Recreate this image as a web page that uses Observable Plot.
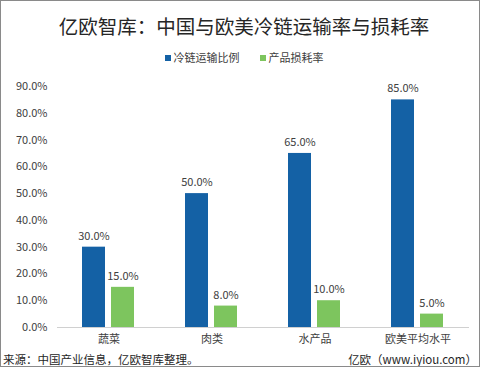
<!DOCTYPE html>
<html>
<head>
<meta charset="utf-8">
<script src="https://cdn.jsdelivr.net/npm/d3@7"></script>
<script src="https://cdn.jsdelivr.net/npm/@observablehq/plot@0.6"></script>
<style>
  html, body { margin: 0; padding: 0; background: #fff; }
  #wrap { position: relative; width: 480px; height: 367px; box-sizing: border-box; border: 1px solid #8a8a8a; overflow: hidden; font-family: "Noto Sans CJK SC", "Noto Sans", sans-serif; }
  #title { position: absolute; left: 4px; width: 478px; top: 10px; text-align: center; font-size: 19.5px; color: #262626; white-space: nowrap; }
  #legend { position: absolute; left: 4px; width: 478px; top: 48px; text-align: center; font-size: 11px; color: #404040; white-space: nowrap; }
  #legend span.sw { display: inline-block; width: 6px; height: 6px; margin-right: 3px; vertical-align: 1px; }
  #legend span.item { margin: 0 10px; }
  #chart { position: absolute; left: 0; top: 70px; }
  #foot-l { position: absolute; left: 2px; top: 350px; font-size: 11.5px; color: #262626; white-space: nowrap; }
  #foot-r { position: absolute; right: 2px; top: 350px; font-size: 11.5px; color: #262626; white-space: nowrap; }
</style>
</head>
<body>
<div id="wrap">
  <div id="title">亿欧智库：中国与欧美冷链运输率与损耗率</div>
  <div id="legend"></div>
  <div id="chart"></div>
  <div id="foot-l">来源：中国产业信息，亿欧智库整理。</div>
  <div id="foot-r">亿欧（www.iyiou.com）</div>
</div>
<script>
const categories = ["蔬菜", "肉类", "水产品", "欧美平均水平"];
const seriesNames = ["冷链运输比例", "产品损耗率"];
const coldChainRate = [0.30, 0.50, 0.65, 0.85];
const lossRate = [0.15, 0.08, 0.10, 0.05];
const yTicks = [0, 0.1, 0.2, 0.3, 0.4, 0.5, 0.6, 0.7, 0.8, 0.9];
const colors = ["#1461A5", "#7DC55E"];

const data = [];
categories.forEach((c, i) => {
  data.push({category: c, series: seriesNames[0], value: coldChainRate[i]});
  data.push({category: c, series: seriesNames[1], value: lossRate[i]});
});

const legend = document.getElementById("legend");
seriesNames.forEach((s, i) => {
  const item = document.createElement("span");
  item.className = "item";
  item.innerHTML = `<span class="sw" style="background:${colors[i]}"></span>${s}`;
  legend.appendChild(item);
});

const fmt = d3.format(".1%");

const chart = Plot.plot({
  width: 478,
  height: 280,
  marginLeft: 56,
  marginRight: 10,
  marginTop: 15,
  marginBottom: 24,
  style: {fontFamily: "'Noto Sans CJK SC', 'Noto Sans', sans-serif", fontSize: "11px", color: "#404040", background: "transparent"},
  fx: {domain: categories, padding: 0, label: null, tickSize: 0, tickPadding: 8, axis: "bottom"},
  x: {domain: seriesNames, paddingInner: 0.2, paddingOuter: 0.85, axis: null},
  y: {domain: [0, 0.9], ticks: yTicks, tickFormat: fmt, tickSize: 0, tickPadding: 10, label: null},
  color: {domain: seriesNames, range: colors},
  marks: [
    Plot.barY(data, {fx: "category", x: "series", y: "value", fill: "series"}),
    Plot.ruleY([0], {stroke: "#d0d0d0", strokeWidth: 1}),
    Plot.text(data, {fx: "category", x: "series", y: "value", text: d => fmt(d.value), dy: -11, fill: "#404040", fontSize: 11})
  ]
});
document.getElementById("chart").appendChild(chart);
</script>
</body>
</html>
